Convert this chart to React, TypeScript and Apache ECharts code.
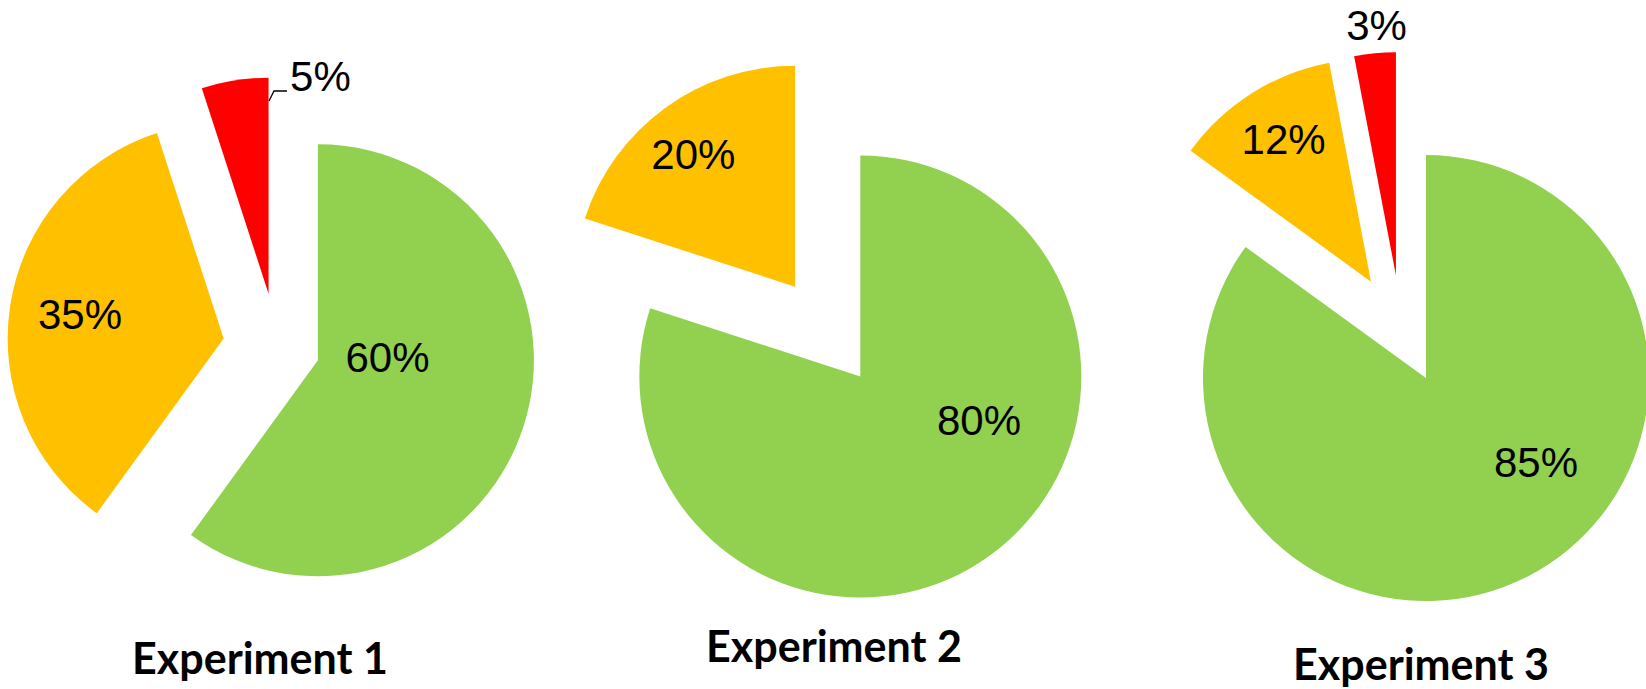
import React, { useEffect, useRef } from 'react';
import * as echarts from 'echarts';

// ---- data ----
const categories = ['Green', 'Amber', 'Red'];
const experimentTitles = ['Experiment 1', 'Experiment 2', 'Experiment 3'];
const exp1Values = [60, 35, 5];
const exp2Values = [80, 20];
const exp3Values = [85, 12, 3];
const allValues = [exp1Values, exp2Values, exp3Values];

// ---- style / layout ----
const sliceColors = ['#92D050', '#FFC000', '#FF0000'];
const pieCenters = [[277, 347], [828, 332], [1401, 329]];
const pieRadii = [216, 221, 223];
const explode = [[43, 54, 54], [55, 56], [55, 56, 54]];
const labelPos = [['inside', 'inside', 'outside'], ['inside', 'inside'], ['inside', 'inside', 'outside']];
const labelShift = [
  [[-36, -37], [-34, -7], [121, -4]],
  [[52, -48], [-35, -40]],
  [[58, -18], [-26, -46], [37, -28]],
];
const titlePos = [[260, 657], [834, 645], [1421, 663]];
// small leader line next to the "5%" label of Experiment 1 (annotation)
const leaderPoints = [[269, 101], [274, 91], [287, 91]];

const LABEL_FONT = 'Liberation Sans, Arial, sans-serif';
const TITLE_FONT = 'Lato, Calibri, sans-serif';

function buildSeries() {
  const series: any[] = [];
  allValues.forEach((values, p) => {
    values.forEach((_, i) => {
      series.push({
        type: 'pie',
        center: pieCenters[p],
        radius: [0, pieRadii[p]],
        startAngle: 90,
        clockwise: true,
        selectedMode: 'multiple',
        selectedOffset: explode[p][i],
        avoidLabelOverlap: false,
        silent: true,
        z: 2,
        labelLine: { show: false, length: 0, length2: 0 },
        data: values.map((v, j) => ({
          name: categories[j],
          value: v,
          selected: j === i,
          itemStyle: {
            color: j === i ? sliceColors[j] : 'rgba(0,0,0,0)',
            borderWidth: 0,
          },
          label: {
            show: j === i,
            position: labelPos[p][j],
            formatter: '{c}%',
            color: '#000',
            fontSize: 42,
            fontFamily: LABEL_FONT,
          },
          labelLine: { show: false },
        })),
        label: { distanceToLabelLine: 5 },
        labelLayout: (params: any) => {
          if (params.dataIndex !== i) return {};
          const [sx, sy] = labelShift[p][i];
          return { dx: sx, dy: sy };
        },
      });
    });
  });
  return series;
}

export default function App() {
  const ref = useRef<HTMLDivElement>(null);
  useEffect(() => {
    if (!ref.current) return;
    const chart = echarts.init(ref.current, undefined, { renderer: 'svg' });
    const titles = experimentTitles.map((t, k) => ({
      type: 'text',
      x: titlePos[k][0],
      y: titlePos[k][1],
      style: {
        text: t,
        fill: '#000',
        fontSize: 43,
        fontWeight: 'bold',
        fontFamily: TITLE_FONT,
        align: 'center',
        verticalAlign: 'middle',
        textAlign: 'center',
        textVerticalAlign: 'middle',
      },
    }));
    chart.setOption({
      animation: false,
      backgroundColor: '#fff',
      series: buildSeries(),
      graphic: [
        ...titles,
        {
          type: 'polyline',
          shape: { points: leaderPoints },
          style: { stroke: '#000', lineWidth: 1.3, fill: 'none' },
          z: 10,
        },
      ],
    });
    return () => chart.dispose();
  }, []);
  return (
    <div
      ref={ref}
      style={{ position: 'absolute', left: 0, top: 0, width: 1646, height: 689 }}
    />
  );
}
